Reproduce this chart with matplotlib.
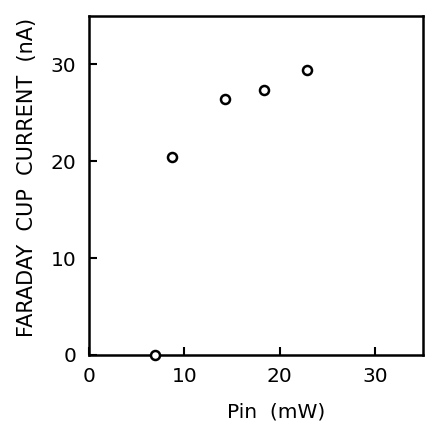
import matplotlib
matplotlib.use("Agg")
import matplotlib.pyplot as plt

# Data
pin_mw = [6.9, 8.7, 14.2, 18.3, 22.8]
current_na = [0.0, 20.4, 26.4, 27.4, 29.4]
x_ticks = [0, 10, 20, 30]
y_ticks = [0, 10, 20, 30]

plt.rcParams['font.family'] = ['DejaVu Sans']

fig = plt.figure(figsize=(4.26, 4.29), dpi=100)
ax = fig.add_axes([89/426, 1 - 355/429, (423-89)/426, (355-16)/429])

ax.plot(pin_mw, current_na, linestyle='none', marker='o', markersize=6.5,
        markerfacecolor='white', markeredgecolor='black', markeredgewidth=1.8,
        clip_on=False, zorder=5)

ax.set_xlim(0, 35)
ax.set_ylim(0, 35)
for s in ax.spines.values():
    s.set_linewidth(1.8)

ax.set_xticks(x_ticks)
ax.set_yticks(y_ticks)
ax.set_xticklabels([str(t) for t in x_ticks], fontsize=14.5)
ax.set_yticklabels([str(t) for t in y_ticks], fontsize=14.5)
ax.tick_params(direction='in', length=6, width=1.5, top=False, right=False)
ax.tick_params(axis='x', pad=9)
ax.tick_params(axis='y', pad=9)

ax.set_ylabel('FARADAY  CUP  CURRENT  (nA)', fontsize=15)
ax.yaxis.set_label_coords(-0.155, 0.525)
ax.set_xlabel('Pin  (mW)', fontsize=14.5)
ax.xaxis.set_label_coords(0.56, -0.14)

fig.savefig('out.png', dpi=100, facecolor='white')
